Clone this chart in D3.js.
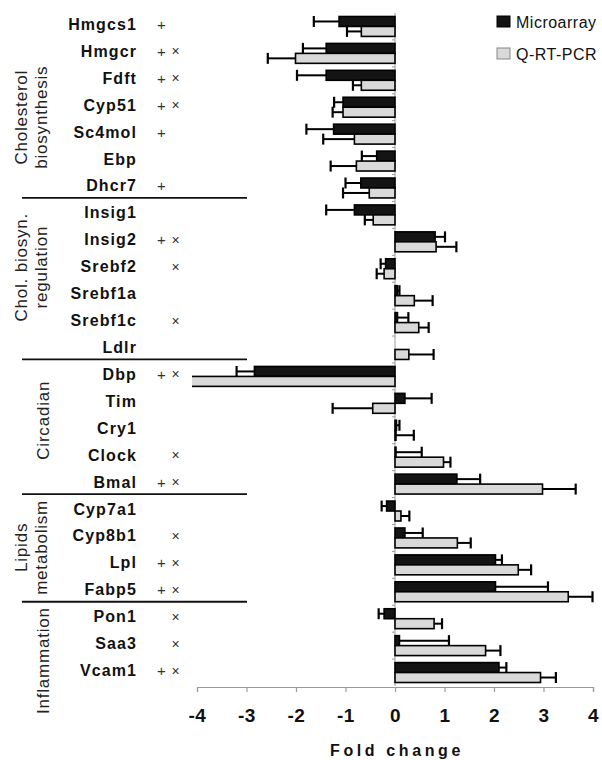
<!DOCTYPE html>
<html>
<head>
<meta charset="utf-8">
<script src="https://cdn.jsdelivr.net/npm/d3@7"></script>
<style>
  html, body { margin: 0; padding: 0; background: #fff; overflow: hidden; }
  svg { display: block; font-family: "Liberation Sans", Arial, sans-serif; }
</style>
</head>
<body>
<script>
// ---------------- DATA ----------------
const genes = ["Hmgcs1","Hmgcr","Fdft","Cyp51","Sc4mol","Ebp","Dhcr7",
  "Insig1","Insig2","Srebf2","Srebf1a","Srebf1c","Ldlr",
  "Dbp","Tim","Cry1","Clock","Bmal",
  "Cyp7a1","Cyp8b1","Lpl","Fabp5",
  "Pon1","Saa3","Vcam1"];
const plusMark  = [1,1,1,1,1,0,1, 0,1,0,0,0,0, 1,0,0,0,1, 0,0,1,1, 0,0,1];
const crossMark = [0,1,1,1,0,0,0, 0,1,1,0,1,0, 1,0,0,1,1, 0,1,1,1, 1,1,1];
const microarray    = [-1.13,-1.39,-1.39,-1.05,-1.24,-0.37,-0.69, -0.82,0.81,-0.19,0.05,0.05,0, -2.84,0.20,0.03,0.02,1.25, -0.17,0.20,2.03,2.03, -0.22,0.09,2.10];
const microarrayErr = [0.51,0.47,0.59,0.18,0.55,0.30,0.31, 0.57,0.20,0.10,0.04,0.22,0, 0.36,0.54,0.06,0.52,0.47, 0.10,0.36,0.13,1.06, 0.11,1.00,0.15];
const qpcr    = [-0.68,-2.01,-0.68,-1.05,-0.82,-0.78,-0.52, -0.44,0.83,-0.22,0.39,0.48,0.28, -4.15,-0.45,0.02,0.98,2.98, 0.12,1.26,2.49,3.50, 0.79,1.83,2.94];
const qpcrErr = [0.29,0.56,0.17,0.21,0.63,0.52,0.53, 0.17,0.41,0.15,0.37,0.20,0.50, 0.40,0.81,0.36,0.14,0.67, 0.17,0.27,0.26,0.49, 0.16,0.30,0.31];
const groupLabels = [["Cholesterol","biosynthesis"],["Chol. biosyn.","regulation"],["Circadian"],["Lipids","metabolism"],["Inflammation"]];
const groupSizes = [7,6,5,4,3];
const xTicks = [-4,-3,-2,-1,0,1,2,3,4];
const seriesNames = ["Microarray","Q-RT-PCR"];
const seriesColors = ["#141414","#d9d9d9"];
const axisTitle = "Fold change";

// ---------------- LAYOUT ----------------
const W = 602, H = 760;
const groupLabelShift = [10,-15,-10,-4,15];   // vertical nudge of the rotated group captions
const svg = d3.select("body").append("svg").attr("width", W).attr("height", H);

const x = d3.scaleLinear().domain([-4,4]).range([197,593]);
const y = d3.scaleBand().domain(genes).range([13,686]).paddingInner(0.26).paddingOuter(0.13);
const sub = d3.scaleBand().domain([0,1]).range([0, y.bandwidth()]);

svg.append("defs").append("clipPath").attr("id","plotclip")
  .append("rect").attr("x", x(-4.1)).attr("y", 0).attr("width", W).attr("height", H);

// vertical zero axis
svg.append("line").attr("x1", x(0)).attr("x2", x(0)).attr("y1", y.range()[0]).attr("y2", y.range()[1])
  .attr("stroke","#9a9a9a").attr("stroke-width",1);
svg.append("g").selectAll("line").data(genes.slice(1)).join("line")
  .attr("x1", x(0) - 3).attr("x2", x(0))
  .attr("y1", d => y(d) - y.step()*y.paddingInner()/2)
  .attr("y2", d => y(d) - y.step()*y.paddingInner()/2)
  .attr("stroke","#9a9a9a");

// bars
const rows = genes.map((g,i) => ({g, i, vals:[microarray[i], qpcr[i]], errs:[microarrayErr[i], qpcrErr[i]]}));
const barG = svg.append("g").attr("clip-path","url(#plotclip)");
rows.forEach(r => {
  [0,1].forEach(s => {
    const v = r.vals[s], e = r.errs[s];
    const top = y(r.g) + sub(s), h = sub.bandwidth();
    const cy = top + h/2;
    const end = v + Math.sign(v || 1) * e;
    if (e > 0) {
      barG.append("line").attr("x1", x(v)).attr("x2", x(end)).attr("y1", cy).attr("y2", cy)
        .attr("stroke","#000").attr("stroke-width",2);
      barG.append("line").attr("x1", x(end)).attr("x2", x(end)).attr("y1", cy - h/2 - 0.5).attr("y2", cy + h/2 + 0.5)
        .attr("stroke","#000").attr("stroke-width",2.2);
    }
    if (v !== 0) {
      barG.append("rect")
        .attr("x", Math.min(x(v), x(0))).attr("width", Math.abs(x(v) - x(0)))
        .attr("y", top).attr("height", h)
        .attr("fill", seriesColors[s]).attr("stroke","#000").attr("stroke-width",1.6);
    }
  });
});

// gene labels and marks
svg.append("g").selectAll("text").data(genes).join("text")
  .attr("x", 137).attr("y", d => y(d) + y.bandwidth()/2 - 2)
  .attr("text-anchor","end").attr("dominant-baseline","central")
  .attr("font-size",16).attr("font-weight","bold").attr("letter-spacing","1.1px").attr("fill","#111")
  .text(d => d);
svg.append("g").selectAll("text").data(genes.filter((g,i)=>plusMark[i])).join("text")
  .attr("x", 161.5).attr("y", d => y(d) + y.bandwidth()/2 - 2)
  .attr("text-anchor","middle").attr("dominant-baseline","central")
  .attr("font-size",15).attr("fill","#333").text("+");
svg.append("g").selectAll("text").data(genes.filter((g,i)=>crossMark[i])).join("text")
  .attr("x", 175.5).attr("y", d => y(d) + y.bandwidth()/2 - 2)
  .attr("text-anchor","middle").attr("dominant-baseline","central")
  .attr("font-size",14).attr("fill","#333").text("×");

// group separators and labels
let start = 0;
groupSizes.forEach((n, gi) => {
  const first = genes[start], last = genes[start + n - 1];
  if (gi > 0) {
    const sy = y(first) - 7;
    svg.append("line").attr("x1",22).attr("x2",247).attr("y1",sy).attr("y2",sy)
      .attr("stroke","#111").attr("stroke-width",1.8);
  }
  const cy = (y(first) + y(last) + y.bandwidth()) / 2 + groupLabelShift[gi];
  const lines = groupLabels[gi];
  const xs = lines.length === 2 ? [21, 41] : [43];
  lines.forEach((t, li) => {
    svg.append("text")
      .attr("transform", `translate(${xs[li]},${cy}) rotate(-90)`)
      .attr("text-anchor","middle").attr("dominant-baseline","central")
      .attr("font-size",17).attr("letter-spacing","0.8px").attr("fill","#222")
      .text(t);
  });
  start += n;
});

// x axis
const xAxis = d3.axisBottom(x).tickValues(xTicks).tickSize(5).tickPadding(17).tickFormat(d => String(d));
const ax = svg.append("g").attr("transform", `translate(0,${y.range()[1] + 1})`).call(xAxis);
ax.select(".domain").attr("stroke","#9a9a9a").attr("stroke-width",1.2);
ax.selectAll(".tick line").attr("stroke","#9a9a9a").attr("stroke-width",1.2);
ax.selectAll(".tick text").attr("font-size",19).attr("font-weight","bold").attr("fill","#111")
  .attr("font-family","'Liberation Sans', Arial, sans-serif").attr("letter-spacing","0.5px");

svg.append("text").attr("x", x(0) + 2).attr("y", 755.5)
  .attr("text-anchor","middle").attr("font-size",16).attr("font-weight","bold")
  .attr("letter-spacing","3.6px").attr("fill","#111").text(axisTitle);

// legend
const leg = svg.append("g");
seriesNames.forEach((n, i) => {
  const ly = 22 + i * 32;
  leg.append("rect").attr("x", 497).attr("y", ly - 6).attr("width", 13).attr("height", 11)
    .attr("fill", seriesColors[i]).attr("stroke", i ? "#888" : "#000").attr("stroke-width",1);
  leg.append("text").attr("x", 516).attr("y", ly).attr("dominant-baseline","central")
    .attr("font-size",16).attr("letter-spacing","0.5px").attr("fill","#111").text(n);
});
</script>
</body>
</html>
